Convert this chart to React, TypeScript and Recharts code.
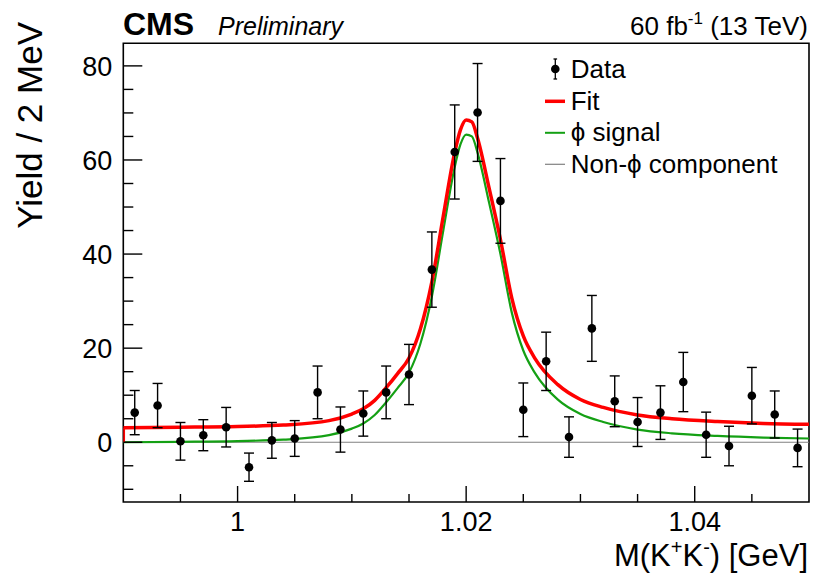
import React from 'react';
import { ComposedChart, Line, Scatter, ErrorBar, XAxis, YAxis, ReferenceArea, Legend } from 'recharts';

// ---- Data ----
const massBins = [0.991, 0.993, 0.995, 0.997, 0.999, 1.001, 1.003, 1.005, 1.007, 1.009, 1.011, 1.013, 1.015, 1.017, 1.019, 1.021, 1.023, 1.025, 1.027, 1.029, 1.031, 1.033, 1.035, 1.037, 1.039, 1.041, 1.043, 1.045, 1.047, 1.049];
const yields = [6.3, 7.8, 0.2, 1.5, 3.2, -5.3, 0.4, 0.8, 10.6, 2.7, 6.1, 10.6, 14.4, 36.7, 61.7, 70.1, 51.3, 6.9, 17.2, 1.1, 24.2, 8.7, 4.3, 6.3, 12.8, 1.6, -0.8, 9.9, 5.9, -1.2];
const yieldErrors = [4.7, 4.7, 4.0, 3.3, 4.2, 3.0, 3.8, 3.8, 5.6, 4.8, 4.8, 5.6, 6.4, 8.0, 10.0, 10.4, 9.0, 5.7, 6.2, 4.3, 7.0, 5.4, 5.2, 5.7, 6.3, 4.8, 4.2, 6.0, 5.0, 4.0];

const fitMass = [0.990, 0.995, 1.000, 1.004, 1.008, 1.010, 1.011, 1.012, 1.013, 1.014, 1.015, 1.016, 1.017, 1.018, 1.019, 1.0195, 1.020, 1.0205, 1.021, 1.022, 1.023, 1.024, 1.025, 1.026, 1.028, 1.030, 1.032, 1.035, 1.038, 1.042, 1.046, 1.050];
const fitTotal = [3.1, 3.2, 3.35, 3.65, 4.6, 6.0, 7.1, 8.9, 11.6, 14.6, 17.9, 24.1, 34.1, 48.1, 61.6, 66.4, 68.5, 68.1, 64.6, 54.1, 43.1, 30.6, 22.6, 17.9, 12.3, 9.1, 7.4, 5.8, 5.0, 4.4, 4.0, 3.8];
const phiSignal = [0.0, 0.1, 0.25, 0.55, 1.5, 2.9, 4.0, 5.8, 8.5, 11.5, 14.8, 21.0, 31.0, 45.0, 58.5, 63.3, 65.4, 65.0, 61.5, 51.0, 40.0, 27.5, 19.5, 14.8, 9.1, 6.0, 4.3, 2.7, 1.9, 1.35, 1.0, 0.8];

const fitEdgeMass = [0.990, 0.990];
const fitEdgeY = [0.0, 3.1];

const nonPhiMass = [0.990, 1.050];
const nonPhi = [0.0, 0.0];

const xTicks = [0.995, 1.0, 1.005, 1.01, 1.015, 1.02, 1.025, 1.03, 1.035, 1.04, 1.045];
const yTicks = [-10, -5, 0, 5, 10, 15, 20, 25, 30, 35, 40, 45, 50, 55, 60, 65, 70, 75, 80];
const xDomain = [0.99, 1.05];
const yDomain = [-12.7, 84.8];

const legendLabels = ['Data', 'Fit', 'ϕ signal', 'Non-ϕ component'];

// ---- Styling ----
const FONT = '"Liberation Sans", Arial, Helvetica, "DejaVu Sans", sans-serif';
const RED = '#ff0000';
const GREEN = '#14a014';
const GREY = '#808080';

const dataPoints = massBins.map((m, i) => ({ x: m, y: yields[i], err: yieldErrors[i] }));
const totalLine = fitMass.map((m, i) => ({ x: m, y: fitTotal[i] }));
const signalLine = fitMass.map((m, i) => ({ x: m, y: phiSignal[i] }));
const edgeLine = fitEdgeMass.map((m, i) => ({ x: m, y: fitEdgeY[i] }));
const nonPhiLine = nonPhiMass.map((m, i) => ({ x: m, y: nonPhi[i] }));

const YTick = (props: any) => {
  const { x, y, payload } = props;
  const v = payload.value as number;
  const major = Math.round(v) % 20 === 0;
  return (
    <g>
      <line x1={x} x2={x + (major ? 19 : 10)} y1={y} y2={y} stroke="#000" strokeWidth={1.4} />
      {major && (
        <text x={x - 11} y={y} dy="0.36em" textAnchor="end" fontSize={27} fontFamily={FONT} fill="#000">
          {String(v)}
        </text>
      )}
    </g>
  );
};

const XTick = (props: any) => {
  const { x, y, payload } = props;
  const v = payload.value as number;
  const major = Math.round(v * 1000) % 20 === 0;
  return (
    <g>
      <line x1={x} x2={x} y1={y} y2={y - (major ? 16 : 8)} stroke="#000" strokeWidth={1.4} />
      {major && (
        <text x={x} y={y + 29} textAnchor="middle" fontSize={27} fontFamily={FONT} fill="#000">
          {String(v)}
        </text>
      )}
    </g>
  );
};

const PointShape = (props: any) => {
  const { cx, cy } = props;
  if (cx == null || cy == null) return null;
  return <circle cx={cx} cy={cy} r={4.3} fill="#000" />;
};

const LegendBox = () => {
  const rowBase = [38.3, 69.8, 101.3, 132.8];
  return (
    <svg width={290} height={150} style={{ display: 'block' }}>
      <line x1={25.3} x2={25.3} y1={19} y2={39} stroke="#000" strokeWidth={1.3} />
      <line x1={23.5} x2={27.1} y1={19} y2={19} stroke="#000" strokeWidth={1.3} />
      <line x1={23.5} x2={27.1} y1={39} y2={39} stroke="#000" strokeWidth={1.3} />
      <circle cx={25.3} cy={29} r={4.3} fill="#000" />
      <line x1={15} x2={35} y1={rowBase[1] - 8.5} y2={rowBase[1] - 8.5} stroke={RED} strokeWidth={3.5} />
      <line x1={15} x2={35} y1={rowBase[2] - 8.5} y2={rowBase[2] - 8.5} stroke={GREEN} strokeWidth={2} />
      <line x1={15} x2={35} y1={rowBase[3] - 8.5} y2={rowBase[3] - 8.5} stroke={GREY} strokeWidth={1.2} />
      {legendLabels.map((t, i) => (
        <text key={t} x={40.7} y={rowBase[i]} fontSize={26} fontFamily={FONT} fill="#000">
          {t}
        </text>
      ))}
    </svg>
  );
};

export default function App() {
  return (
    <div style={{ position: 'absolute', left: 0, top: 0, width: 821, height: 573, background: '#fff' }}>
      <ComposedChart
        width={821}
        height={573}
        margin={{ top: 43.3, right: 12, bottom: 31, left: 63.3 }}
      >
        <XAxis
          type="number"
          dataKey="x"
          domain={xDomain}
          ticks={xTicks}
          allowDataOverflow
          axisLine={false}
          tickLine={false}
          tickSize={0}
          tickMargin={0}
          height={40}
          tick={<XTick />}
          interval={0}
        />
        <YAxis
          type="number"
          dataKey="y"
          domain={yDomain}
          ticks={yTicks}
          allowDataOverflow
          axisLine={false}
          tickLine={false}
          tickSize={0}
          tickMargin={0}
          width={60}
          tick={<YTick />}
          interval={0}
        />
        <Line data={nonPhiLine} dataKey="y" type="linear" stroke={GREY} strokeWidth={1.2} dot={false} isAnimationActive={false} legendType="none" />
        <Line data={signalLine} dataKey="y" type="monotone" stroke={GREEN} strokeWidth={2.2} dot={false} isAnimationActive={false} />
        <Line data={totalLine} dataKey="y" type="monotone" stroke={RED} strokeWidth={3.5} dot={false} isAnimationActive={false} />
        <Line data={edgeLine} dataKey="y" type="linear" stroke={RED} strokeWidth={3.5} dot={false} isAnimationActive={false} legendType="none" />
        <Scatter data={dataPoints} dataKey="y" shape={<PointShape />} isAnimationActive={false}>
          <ErrorBar dataKey="err" direction="y" width={5} stroke="#000" strokeWidth={1.4} isAnimationActive={false} />
        </Scatter>
        <ReferenceArea x1={xDomain[0]} x2={xDomain[1]} y1={yDomain[0]} y2={yDomain[1]} fill="none" fillOpacity={0} stroke="#000" strokeWidth={1.6} ifOverflow="visible" />
        <Legend
          layout="vertical"
          align="center"
          verticalAlign="middle"
          wrapperStyle={{ position: 'absolute', left: 530, top: 40, width: 290, height: 150 }}
          content={() => <LegendBox />}
        />
      </ComposedChart>
      <svg width={821} height={573} style={{ position: 'absolute', left: 0, top: 0, pointerEvents: 'none' }}>
        <text x={123} y={35} fontSize={32} fontWeight="bold" fontFamily={FONT} fill="#000">CMS</text>
        <text x={218} y={35} fontSize={25} fontStyle="italic" fontFamily={FONT} fill="#000">Preliminary</text>
        <text x={808} y={35} fontSize={26} textAnchor="end" fontFamily={FONT} fill="#000">
          60 fb<tspan dy={-11} fontSize={17}>-1</tspan><tspan dy={11}> (13 TeV)</tspan>
        </text>
        <text x={808} y={566} fontSize={31} textAnchor="end" fontFamily={FONT} fill="#000">
          M(K<tspan dy={-12} fontSize={20}>+</tspan><tspan dy={12}>K</tspan><tspan dy={-12} fontSize={20}>-</tspan><tspan dy={12}>) [GeV]</tspan>
        </text>
        <text transform="translate(42,22) rotate(-90)" fontSize={35} textAnchor="end" fontFamily={FONT} fill="#000">
          Yield / 2 MeV
        </text>
      </svg>
    </div>
  );
}
